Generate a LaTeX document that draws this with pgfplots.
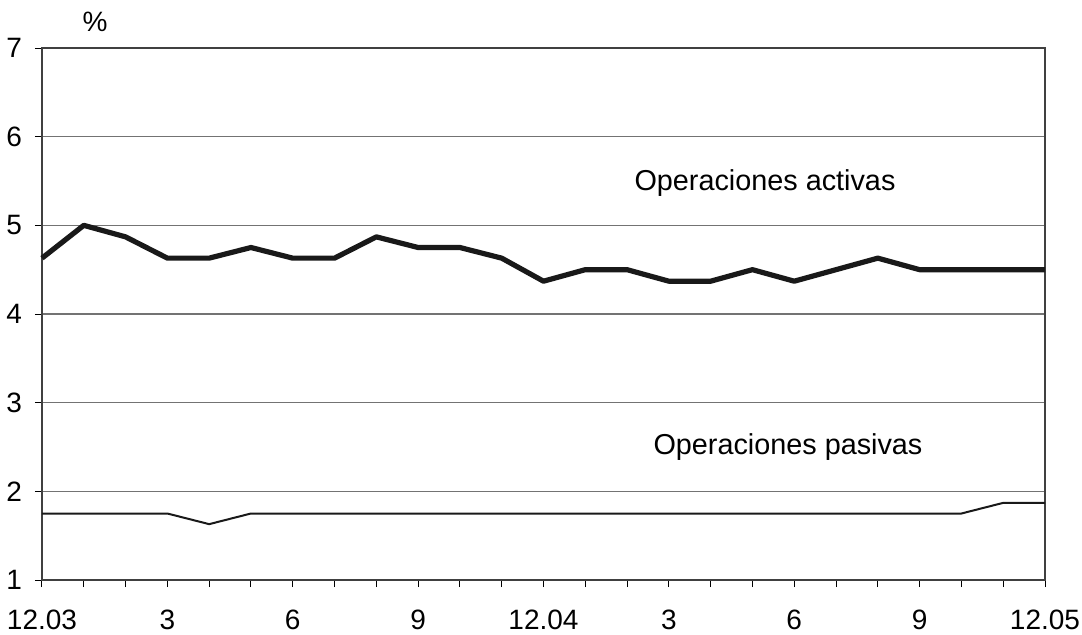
\documentclass[border=0pt]{standalone}
\usepackage{fontspec}
\setmainfont{Liberation Sans}
\usepackage{pgfplots}
\pgfplotsset{compat=1.18}

\begin{document}
\begin{tikzpicture}[font=\fontsize{14}{16}\selectfont]
\useasboundingbox (-21pt,-27pt) rectangle (520pt,290pt);
\begin{axis}[
	scale only axis,
	width=501.5pt, height=266pt,
	xmin=0, xmax=24, ymin=1, ymax=7,
	xtick={0,...,24},
	xticklabels={12.03,,,3,,,6,,,9,,,12.04,,,3,,,6,,,9,,,12.05},
	ytick={1,...,7},
	tick align=outside, tick pos=left,
	major tick length=3.5pt,
	tick style={black, line width=0.5pt},
	xticklabel style={yshift=-8pt},
	yticklabel style={xshift=-3pt},
	/pgf/number format/assume math mode=true,
	ymajorgrids,
	grid style={black!55, line width=0.6pt},
	axis line style={black!75, line width=0.6pt},
	clip=false,
]
% operaciones activas
\addplot[black!90, line width=2.6pt, line join=round] coordinates {
(0,4.63)(1,5.0)(2,4.87)(3,4.63)(4,4.63)(5,4.75)(6,4.63)(7,4.63)(8,4.87)
(9,4.75)(10,4.75)(11,4.63)(12,4.37)(13,4.5)(14,4.5)(15,4.37)(16,4.37)
(17,4.5)(18,4.37)(19,4.5)(20,4.63)(21,4.5)(22,4.5)(23,4.5)(24,4.5)};
% operaciones pasivas
\addplot[black!90, line width=1pt] coordinates {
(0,1.75)(1,1.75)(2,1.75)(3,1.75)(4,1.63)(5,1.75)(6,1.75)(7,1.75)(8,1.75)
(9,1.75)(10,1.75)(11,1.75)(12,1.75)(13,1.75)(14,1.75)(15,1.75)(16,1.75)
(17,1.75)(18,1.75)(19,1.75)(20,1.75)(21,1.75)(22,1.75)(23,1.87)(24,1.87)};

\node[font=\fontsize{14.4}{16}\selectfont] at (axis cs:17.3,5.48) {Operaciones activas};
\node[font=\fontsize{14.4}{16}\selectfont] at (axis cs:17.85,2.5) {Operaciones pasivas};
\node at (axis cs:1.27,7.29) {\%};
\end{axis}
\end{tikzpicture}
\end{document}
